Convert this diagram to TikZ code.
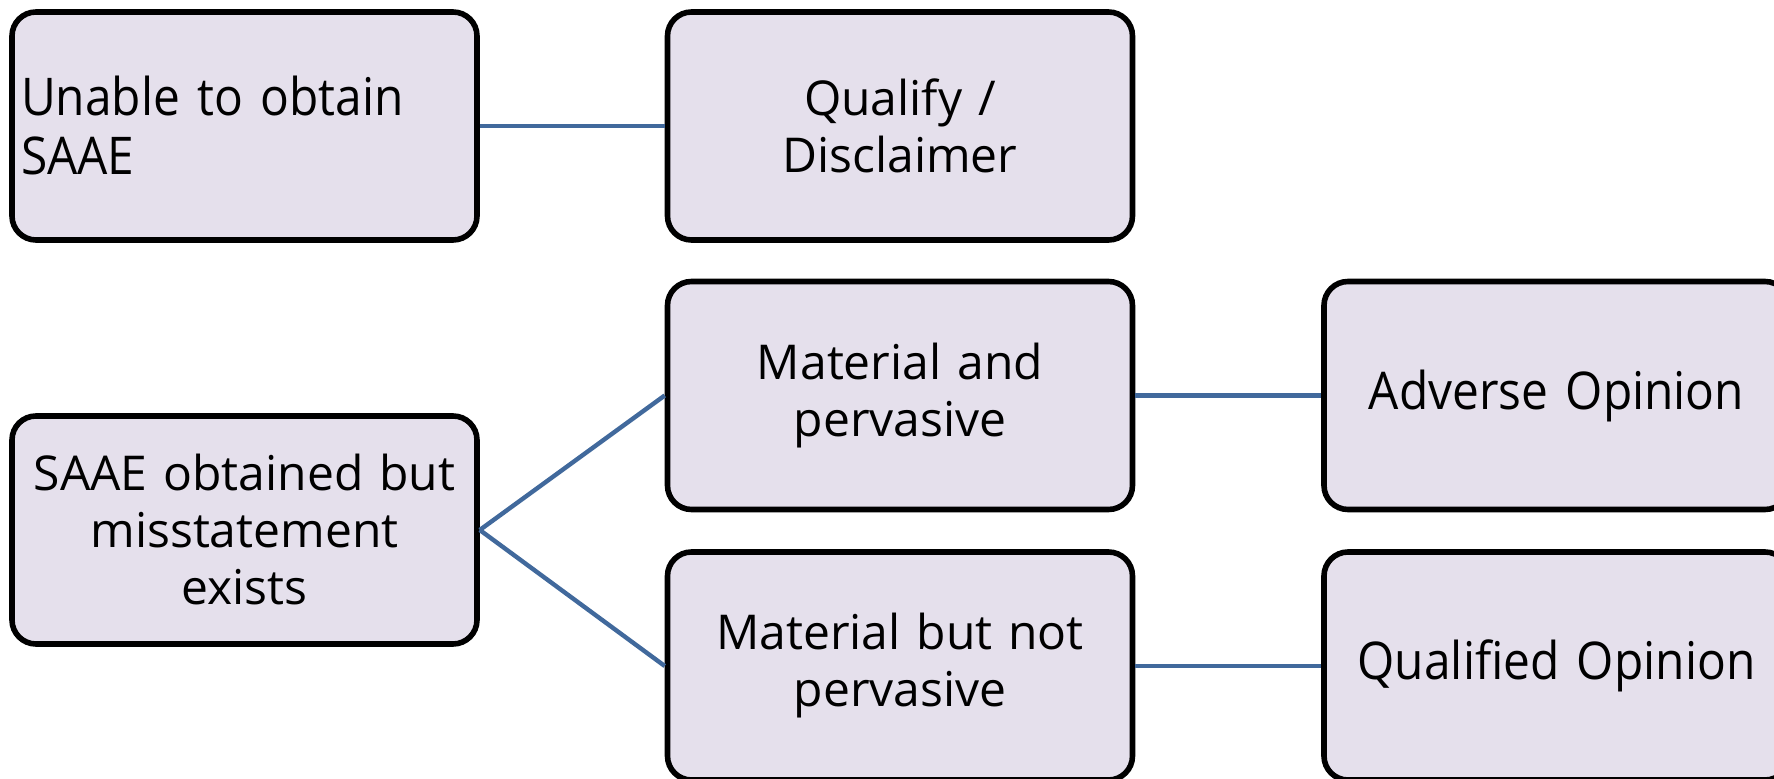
\documentclass[tikz,border=0pt]{standalone}
\usepackage{fontspec}
\setmainfont{Open Sans}
\newfontfamily\narrowfont[FakeStretch=0.92]{Open Sans}
\definecolor{boxfill}{HTML}{E5E0EC}
\definecolor{linkblue}{HTML}{41699C}
\tikzset{
  box/.style={draw=black, line width=2.8pt, fill=boxfill, rounded corners=12pt,
    minimum width=232.5pt, minimum height=114pt, inner xsep=4.5pt,
    text width=223.5pt, align=center, font=\fontsize{24}{28.5}\selectfont},
  narrowbox/.style={box, font=\narrowfont\fontsize{26}{29.5}\selectfont},
  link/.style={draw=linkblue, line width=2.2pt}
}
\begin{document}
\begin{tikzpicture}[x=0.5pt,y=-0.5pt]
\useasboundingbox (0,0) rectangle (1774,779);
\clip (0,0) rectangle (1774,779);
\node [narrowbox, align=left] (unable) at (244.5,126) {Unable to obtain\\SAAE};
\node [box] (qualify) at (900,126) {Qualify /\\Disclaimer};
\node [box] (saae) at (244.5,530) {SAAE obtained but\\misstatement\\exists};
\node [box] (matp) at (900,395.5) {Material and\\pervasive};
\node [box] (matnp) at (900,666) {Material but not\\pervasive};
\node [narrowbox] (adverse) at (1556.5,395.5) {Adverse Opinion};
\node [narrowbox] (qualified) at (1556.5,666) {Qualified Opinion};
\draw [link] (unable.east) -- (qualify.west);
\draw [link] (saae.east) -- (matp.west);
\draw [link] (saae.east) -- (matnp.west);
\draw [link] (matp.east) -- (adverse.west);
\draw [link] (matnp.east) -- (qualified.west);
\end{tikzpicture}
\end{document}
